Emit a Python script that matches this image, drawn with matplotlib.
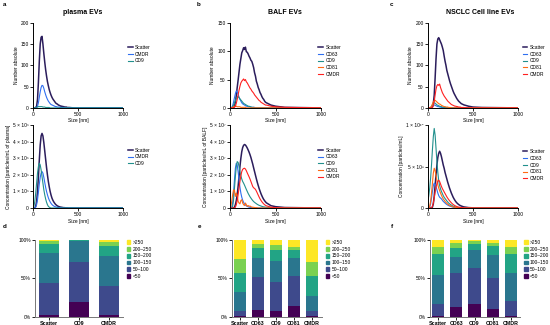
import matplotlib
matplotlib.use("Agg")
import matplotlib.pyplot as plt
from matplotlib.patches import Patch

plt.rcParams['font.family'] = ['Liberation Sans', 'DejaVu Sans']

# size grid (nm), 10 nm steps up to 400 then a few coarse points
SIZE_NM = list(range(0, 410, 10)) + [450, 500, 600, 1000]


def pad(vals):
    # tail of every curve is flat at zero
    return vals + [0] * (len(SIZE_NM) - len(vals))


# ---- a: plasma EVs, number absolute
a_scatter = pad([0, 0, 0, 1, 4, 20, 60, 110, 150, 166, 168, 150, 128, 108, 90, 75, 62, 52, 43, 36,
                 30, 25, 21, 18, 15, 12, 10, 9, 7, 6, 5, 4, 4, 3, 3, 2, 2, 2, 1, 1, 1])
a_cmdr = pad([0, 0, 0, 0, 1, 4, 12, 25, 38, 48, 53, 52, 46, 38, 31, 25, 20, 16, 13, 10,
              8, 7, 6, 5, 4, 3, 3, 2, 2, 2, 1, 1, 1, 1, 1])
a_cd9 = pad([0, 0, 0, 0, 1, 2, 3, 3, 3, 3, 3, 2, 2, 2, 1, 1, 1, 1, 1])

# ---- a: plasma EVs, concentration (x 1e5)
a2_scatter = pad([0, 0, 0, 0.1, 0.4, 1.0, 1.9, 2.9, 3.8, 4.35, 4.5, 4.35, 3.95, 3.45, 2.95, 2.45, 2.0, 1.6,
                  1.28, 1.0, 0.78, 0.6, 0.47, 0.37, 0.29, 0.22, 0.17, 0.13, 0.1, 0.08, 0.06, 0.05, 0.04,
                  0.03, 0.02, 0.02, 0.01, 0.01, 0.01])
a2_cmdr = pad([0, 0, 0, 0.05, 0.2, 0.5, 0.95, 1.45, 1.85, 2.1, 2.2, 2.1, 1.85, 1.55, 1.25, 1.0, 0.8, 0.62,
               0.48, 0.37, 0.28, 0.21, 0.16, 0.12, 0.09, 0.07, 0.05, 0.04, 0.03, 0.02, 0.02, 0.01, 0.01])
a2_cd9 = pad([0, 0.1, 0.4, 0.9, 1.5, 2.1, 2.5, 2.7, 2.6, 2.3, 1.9, 1.5, 1.1, 0.8, 0.55, 0.35, 0.2, 0.1,
              0.05, 0.02])

# ---- b: BALF EVs, number absolute
b_scatter = pad([0, 0, 0, 0, 1, 3, 10, 22, 36, 49, 63, 77, 87, 97, 101, 106, 103, 107, 99, 98,
                 95, 91, 88, 84, 82, 77, 71, 62, 56, 47, 42, 36, 32, 27, 24, 20, 17, 15, 12, 10,
                 9, 5, 3, 1])
b_cd63 = pad([0, 0, 1, 4, 10, 18, 25, 30, 28, 24, 19, 15, 12, 9, 7, 6, 5, 4, 3, 3, 2, 2, 2, 1, 1, 1, 1, 1])
b_cd9 = pad([0, 0, 0, 2, 5, 9, 13, 17, 19, 20, 18, 16, 14, 12, 10, 8, 7, 6, 5, 4, 3, 3, 2, 2, 1, 1, 1])
b_cd81 = pad([0, 0, 0, 1, 2, 3, 3, 3, 2, 2, 2, 2, 1, 1, 1, 1, 1, 1])
b_cmdr = pad([0, 0, 0, 0, 0, 1, 3, 8, 15, 23, 31, 38, 44, 47, 49, 51, 48, 50, 46, 44,
              41, 38, 35, 33, 30, 28, 26, 23, 21, 19, 17, 15, 13, 12, 10, 9, 8, 7, 6, 5,
              5, 3, 2, 1])

# ---- b: BALF EVs, concentration (x 1e7)
b2_scatter = pad([0, 0, 0, 0, 0, 0.05, 0.2, 0.45, 0.8, 1.3, 1.9, 2.5, 3.0, 3.4, 3.65, 3.78, 3.83, 3.8,
                  3.72, 3.62, 3.5, 3.37, 3.22, 3.05, 2.85, 2.65, 2.42, 2.2, 1.98, 1.76, 1.55, 1.36,
                  1.18, 1.02, 0.87, 0.74, 0.62, 0.52, 0.44, 0.37, 0.31, 0.14, 0.08, 0.03])
b2_cd63 = pad([0, 0, 0.05, 0.3, 0.9, 1.7, 2.4, 2.7, 2.6, 2.2, 1.7, 1.25, 0.9, 0.65, 0.47, 0.34, 0.25,
               0.18, 0.13, 0.1, 0.07, 0.05, 0.04, 0.03, 0.02, 0.01])
b2_cd9 = pad([0, 0, 0, 0.1, 0.5, 1.2, 1.9, 2.5, 2.8, 2.75, 2.5, 2.2, 1.95, 1.75, 1.6, 1.5, 1.38, 1.25,
              1.12, 1.0, 0.88, 0.78, 0.68, 0.6, 0.52, 0.45, 0.39, 0.34, 0.3, 0.26, 0.22, 0.19, 0.16,
              0.14, 0.12, 0.1, 0.08, 0.07, 0.06, 0.05, 0.04, 0.02, 0.01])
b2_cd81 = pad([0, 0.1, 0.4, 0.8, 1.1, 1.05, 0.7, 0.9, 0.75, 0.4, 0.3, 0.25, 0.45, 0.5, 0.3, 0.2, 0.15,
               0.3, 0.2, 0.1, 0.15, 0.1, 0.12, 0.08, 0.05, 0.05, 0.04, 0.03, 0.02, 0.02, 0.01])
b2_cmdr = pad([0, 0, 0, 0, 0, 0, 0.05, 0.2, 0.45, 0.8, 1.2, 1.6, 1.95, 2.2, 2.33, 2.38, 2.4, 2.35,
               2.25, 2.12, 2.0, 1.88, 1.75, 1.6, 1.45, 1.3, 1.22, 1.18, 1.12, 1.02, 0.9, 0.78, 0.66,
               0.55, 0.46, 0.38, 0.31, 0.25, 0.2, 0.16, 0.13, 0.05, 0.02])

# ---- c: NSCLC cell line EVs, number absolute
c_scatter = pad([0, 0, 0, 0, 0, 2, 10, 30, 70, 115, 150, 162, 165, 160, 155, 150, 143, 135, 122, 110,
                 100, 88, 80, 72, 64, 57, 51, 45, 39, 34, 30, 26, 22, 19, 16, 14, 12, 10, 9, 8,
                 7, 4, 2, 1])
c_cd63 = pad([0, 0, 0, 1, 3, 6, 8, 7, 6, 5, 4, 3, 3, 2, 2, 1, 1, 1])
c_cd9 = pad([0, 0, 0, 1, 3, 7, 10, 12, 11, 9, 7, 6, 5, 4, 3, 3, 2, 2, 1, 1, 1])
c_cd81 = pad([0, 0, 0, 1, 4, 9, 14, 17, 18, 16, 14, 12, 10, 9, 8, 6, 5, 4, 3, 3, 2, 2, 2, 1, 1, 1])
c_cmdr = pad([0, 0, 0, 0, 0, 1, 5, 15, 30, 44, 52, 55, 53, 56, 48, 42, 36, 32, 28, 25,
              22, 19, 16, 14, 12, 10, 8, 7, 6, 5, 4, 4, 3, 3, 2, 2, 2, 1, 1, 1, 1])

# ---- c: NSCLC cell line EVs, concentration (x 1e9)
c2_scatter = pad([0, 0, 0, 0, 0, 0.1, 0.5, 1.4, 2.7, 4.0, 5.2, 6.1, 6.6, 6.85, 6.6, 6.2, 5.7, 5.2, 4.8,
                  4.3, 3.9, 3.5, 3.1, 2.75, 2.4, 2.1, 1.8, 1.55, 1.3, 1.1, 0.92, 0.76, 0.63, 0.52,
                  0.43, 0.35, 0.29, 0.24, 0.2, 0.16, 0.13, 0.05, 0.02])
c2_cd63 = pad([0, 0, 0.1, 0.5, 1.2, 2.0, 2.7, 3.0, 2.9, 2.6, 2.2, 1.8, 1.5, 1.3, 1.2, 1.1, 0.95, 0.8,
               0.7, 0.6, 0.5, 0.42, 0.35, 0.29, 0.24, 0.2, 0.16, 0.13, 0.1, 0.08, 0.06, 0.05, 0.04,
               0.03, 0.02, 0.01])
c2_cd9 = pad([0.8, 1.5, 2.4, 3.6, 5.2, 7.0, 8.6, 9.6, 8.8, 7.2, 5.6, 4.3, 3.3, 2.7, 2.3, 2.0, 1.75, 1.5,
              1.3, 1.15, 1.0, 0.85, 0.72, 0.6, 0.5, 0.42, 0.35, 0.28, 0.22, 0.18, 0.14, 0.11, 0.08,
              0.06, 0.05, 0.04, 0.03, 0.02, 0.02, 0.01, 0.01])
c2_cd81 = pad([0, 0, 0.2, 0.8, 1.8, 3.0, 4.2, 4.8, 4.5, 3.9, 3.3, 2.8, 2.4, 2.1, 1.8, 1.55, 1.3, 1.1,
               0.95, 0.8, 0.68, 0.57, 0.47, 0.39, 0.32, 0.26, 0.21, 0.17, 0.13, 0.1, 0.08, 0.06,
               0.05, 0.04, 0.03, 0.02, 0.01, 0.01])
c2_cmdr = pad([0, 0, 0, 0, 0, 0.2, 0.6, 1.2, 1.9, 2.5, 2.95, 3.25, 3.35, 3.2, 2.9, 2.6, 2.35, 2.15,
               1.95, 1.75, 1.55, 1.35, 1.18, 1.02, 0.88, 0.75, 0.63, 0.52, 0.43, 0.35, 0.28, 0.23,
               0.18, 0.14, 0.11, 0.09, 0.07, 0.05, 0.04, 0.03, 0.02, 0.01])

# ---- size distribution bars (% per bin, bottom to top)
BINS = ['<50', '50–100', '100–150', '150–200', '200–250', '>250']
BIN_COLORS = ['#440154', '#3e4a8c', '#2a768e', '#22a485', '#7ad151', '#fde725']

d_groups = ['Scatter', 'CD9', 'CMDR']
d_pct = [[1.7, 42.6, 38.3, 12.2, 3.5, 1.7],
         [19.6, 52.2, 27.0, 0.8, 0.2, 0.2],
         [2.2, 37.8, 39.1, 13.0, 4.8, 3.1]]

e_groups = ['Scatter', 'CD63', 'CD9', 'CD81', 'CMDR']
e_pct = [[0.5, 7.0, 24.3, 25.7, 17.8, 24.7],
         [8.7, 43.5, 24.8, 12.2, 5.6, 5.2],
         [7.4, 37.4, 27.8, 14.8, 6.5, 6.1],
         [14.3, 39.1, 23.5, 9.6, 4.3, 9.2],
         [0.5, 6.5, 20.4, 25.2, 18.3, 29.1]]

f_groups = ['Scatter', 'CD63', 'CD9', 'CD81', 'CMDR']
f_pct = [[0.9, 15.2, 38.3, 27.0, 10.0, 8.6],
         [13.0, 43.5, 20.9, 11.7, 7.0, 3.9],
         [16.5, 46.5, 23.9, 8.3, 3.0, 1.8],
         [10.0, 40.0, 30.4, 11.7, 3.5, 4.4],
         [0.9, 20.0, 36.5, 23.9, 10.0, 8.7]]

COLORS = {'Scatter': '#2b1d5c', 'CD63': '#2f6ff0', 'CD9': '#21908d',
          'CD81': '#ff6a13', 'CMDR': '#ff2020'}

fig = plt.figure(figsize=(5.5, 3.25), dpi=100)


def style_axes(ax):
    for s in ['top', 'right']:
        ax.spines[s].set_visible(False)
    for s in ['left', 'bottom']:
        ax.spines[s].set_linewidth(0.7)
    ax.tick_params(labelsize=3.5, length=2, width=0.6, pad=1)


def line_panel(rect, series, ymax, yticks, yticklabels, ylabel, leg_x, leg_y):
    ax = fig.add_axes(rect)
    for name, vals, color in series:
        lw = 1.1 if name == 'Scatter' else 0.8
        ax.plot(SIZE_NM, vals, color=color, lw=lw, label=name)
    ax.set_xlim(0, 1000)
    ax.set_ylim(0, ymax)
    ax.set_xticks([0, 500, 1000])
    ax.set_yticks(yticks)
    ax.set_yticklabels(yticklabels)
    ax.set_xlabel('Size [nm]', fontsize=3.5, labelpad=1)
    ax.set_ylabel(ylabel, fontsize=3.5, labelpad=1.5)
    style_axes(ax)
    ax.legend(loc='upper left', bbox_to_anchor=(leg_x, leg_y), frameon=False, fontsize=3.5,
              handlelength=1.0, handletextpad=0.5, labelspacing=0.35, borderpad=0, borderaxespad=0)
    return ax


def bar_panel(rect, groups, pct, bar_w, xlim):
    ax = fig.add_axes(rect)
    x = list(range(len(groups)))
    bottoms = [0] * len(groups)
    for i, label in enumerate(BINS):
        vals = [row[i] for row in pct]
        ax.bar(x, vals, width=bar_w, bottom=bottoms, color=BIN_COLORS[i], label=label, linewidth=0)
        bottoms = [b + v for b, v in zip(bottoms, vals)]
    ax.set_xlim(*xlim)
    ax.set_ylim(0, 100)
    ax.set_yticks([0, 50, 100])
    ax.set_yticklabels(['0%', '50%', '100%'])
    ax.set_xticks(x)
    ax.set_xticklabels(groups, fontweight='bold')
    style_axes(ax)
    ax.spines['left'].set_color('#777777')
    ax.spines['bottom'].set_color('#777777')
    ax.tick_params(axis='x', labelsize=3.8)
    handles = [Patch(color=BIN_COLORS[i], label=BINS[i]) for i in range(len(BINS) - 1, -1, -1)]
    ax.legend(handles=handles, loc='upper left', bbox_to_anchor=(1.04, 1.0), frameon=False,
              fontsize=3.5, handlelength=0.8, handleheight=0.8, handletextpad=0.5,
              labelspacing=0.35, borderpad=0, borderaxespad=0)
    return ax


# row 1: number absolute
line_panel([0.060, 0.668, 0.164, 0.262],
           [('Scatter', a_scatter, COLORS['Scatter']), ('CMDR', a_cmdr, COLORS['CD63']),
            ('CD9', a_cd9, COLORS['CD9'])],
           200, [0, 50, 100, 150, 200], ['0', '50', '100', '150', '200'], 'Number absolute', 1.05, 0.74)
line_panel([0.418, 0.668, 0.166, 0.262],
           [('Scatter', b_scatter, COLORS['Scatter']), ('CD63', b_cd63, COLORS['CD63']),
            ('CD9', b_cd9, COLORS['CD9']), ('CD81', b_cd81, COLORS['CD81']),
            ('CMDR', b_cmdr, COLORS['CMDR'])],
           150, [0, 50, 100, 150], ['0', '50', '100', '150'], 'Number absolute', 0.97, 0.74)
line_panel([0.778, 0.668, 0.164, 0.262],
           [('Scatter', c_scatter, COLORS['Scatter']), ('CD63', c_cd63, COLORS['CD63']),
            ('CD9', c_cd9, COLORS['CD9']), ('CD81', c_cd81, COLORS['CD81']),
            ('CMDR', c_cmdr, COLORS['CMDR'])],
           200, [0, 50, 100, 150, 200], ['0', '50', '100', '150', '200'], 'Number absolute', 1.05, 0.74)

# row 2: concentration
line_panel([0.060, 0.36, 0.164, 0.255],
           [('Scatter', a2_scatter, COLORS['Scatter']), ('CMDR', a2_cmdr, COLORS['CD63']),
            ('CD9', a2_cd9, COLORS['CD9'])],
           5, [0, 1, 2, 3, 4, 5], ['0', '1 × 10⁵', '2 × 10⁵', '3 × 10⁵', '4 × 10⁵', '5 × 10⁵'],
           'Concentration [particles/mL of plasma]', 1.05, 0.73)
line_panel([0.418, 0.36, 0.166, 0.255],
           [('Scatter', b2_scatter, COLORS['Scatter']), ('CD63', b2_cd63, COLORS['CD63']),
            ('CD9', b2_cd9, COLORS['CD9']), ('CD81', b2_cd81, COLORS['CD81']),
            ('CMDR', b2_cmdr, COLORS['CMDR'])],
           5, [0, 1, 2, 3, 4, 5], ['0', '1 × 10⁷', '2 × 10⁷', '3 × 10⁷', '4 × 10⁷', '5 × 10⁷'],
           'Concentration [particles/mL of BALF]', 0.97, 0.73)
line_panel([0.778, 0.36, 0.164, 0.255],
           [('Scatter', c2_scatter, COLORS['Scatter']), ('CD63', c2_cd63, COLORS['CD63']),
            ('CD9', c2_cd9, COLORS['CD9']), ('CD81', c2_cd81, COLORS['CD81']),
            ('CMDR', c2_cmdr, COLORS['CMDR'])],
           10, [0, 5, 10], ['0', '5 × 10⁹', '1 × 10¹⁰'],
           'Concentration [particles/mL]', 1.05, 0.71)

# row 3: size bins
bar_panel([0.0636, 0.0255, 0.16, 0.236], d_groups, d_pct, 0.67, (-0.47, 2.47))
bar_panel([0.4218, 0.0255, 0.1636, 0.236], e_groups, e_pct, 0.67, (-0.44, 4.55))
bar_panel([0.782, 0.0255, 0.1636, 0.236], f_groups, f_pct, 0.67, (-0.44, 4.5))

# titles and panel letters
fig.text(83 / 550, 1 - 13 / 325, 'plasma EVs', ha='center', va='center', fontsize=5, fontweight='bold')
fig.text(285 / 550, 1 - 13 / 325, 'BALF EVs', ha='center', va='center', fontsize=5, fontweight='bold')
fig.text(480 / 550, 1 - 13 / 325, 'NSCLC Cell line EVs', ha='center', va='center', fontsize=5,
         fontweight='bold')
for letter, (px, py) in zip('abcdef', [(3, 5), (197, 5), (390, 5), (3, 226), (198, 226), (391, 226)]):
    fig.text(px / 550, 1 - py / 325, letter, ha='left', va='center', fontsize=4.5, fontweight='bold')

fig.savefig('out.png', dpi=100)
